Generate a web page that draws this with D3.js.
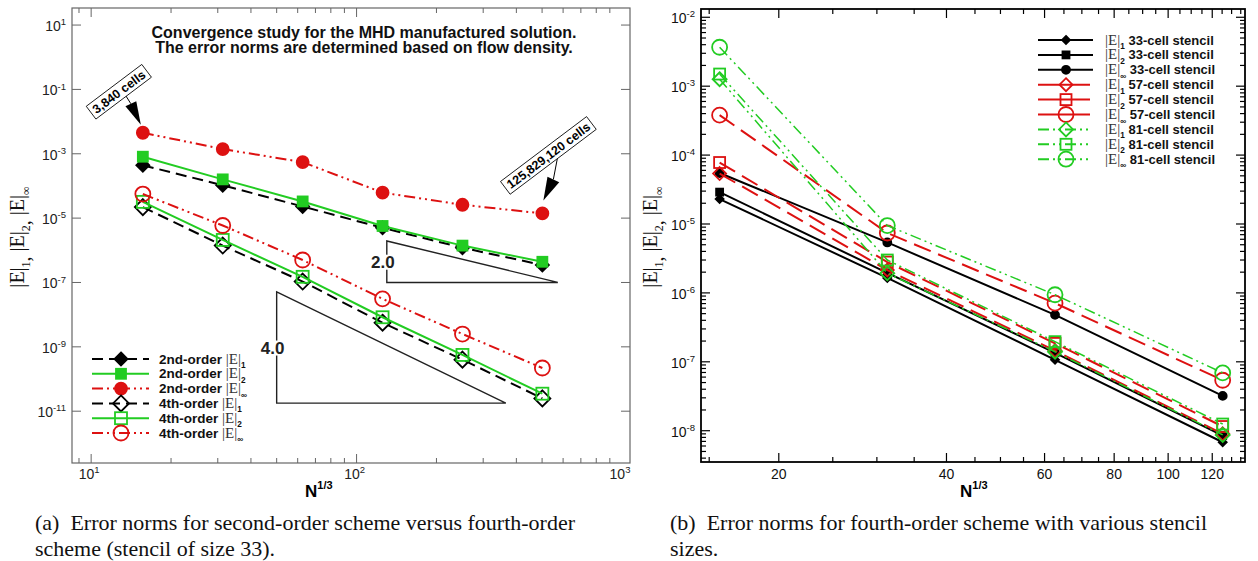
<!DOCTYPE html>
<html>
<head>
<meta charset="utf-8">
<script src="https://cdn.jsdelivr.net/npm/d3@7"></script>
<style>
  body { margin: 0; background: #fff; }
  svg { display: block; }
  .sans { font-family: "Liberation Sans", Arial, Helvetica, sans-serif; }
  .serif { font-family: "Liberation Serif", "Times New Roman", serif; }
</style>
</head>
<body>
<svg width="1258" height="561"></svg>
<script>
var svg = d3.select('svg');

// ---- data ----
// N^(1/3) for 3,840 ... 125,829,120 cells
var cbrtN = [15.66, 31.32, 62.65, 125.3, 250.6, 501.2];

// (a) second-order vs fourth-order, 33 stencil
var o2E1 = [4.4e-4, 1.05e-4, 2.3e-5, 5.0e-6, 1.2e-6, 3.5e-7];
var o2E2 = [8.1e-4, 1.6e-4, 3.3e-5, 5.7e-6, 1.4e-6, 4.4e-7];
var o2Einf = [4.5e-3, 1.4e-3, 5.5e-4, 6.2e-5, 2.6e-5, 1.4e-5];
var o4E1 = [2.2e-5, 1.4e-6, 1.07e-7, 5.6e-9, 4.0e-10, 2.5e-11];
var o4E2 = [3.2e-5, 2.1e-6, 1.5e-7, 8.3e-9, 5.6e-10, 3.5e-11];
var o4Einf = [5.6e-5, 5.9e-6, 5.0e-7, 3.1e-8, 2.5e-9, 2.2e-10];

// (b) fourth-order, stencil sizes (first 4 grids)
var s33E1 = [2.3e-5, 1.65e-6, 1.07e-7, 6.8e-9];
var s33E2 = [2.9e-5, 1.95e-6, 1.35e-7, 8.5e-9];
var s33Einf = [5.5e-5, 5.4e-6, 4.8e-7, 3.2e-8];
var s57E1 = [5.4e-5, 2.15e-6, 1.45e-7, 9.0e-9];
var s57E2 = [7.8e-5, 2.8e-6, 1.85e-7, 1.15e-8];
var s57Einf = [3.8e-4, 7.4e-6, 7.1e-7, 5.4e-8];
var s81E1 = [1.26e-3, 1.93e-6, 1.4e-7, 8.7e-9];
var s81E2 = [1.5e-3, 3.0e-6, 1.96e-7, 1.25e-8];
var s81Einf = [3.67e-3, 9.5e-6, 9.4e-7, 6.9e-8];

// slope triangles: x0, top y0, x1, order
var slopeTri = [
  {x0: 130, y0: 1.95e-6, x1: 573, order: 2, label: '2.0'},
  {x0: 50, y0: 5.07e-8, x1: 365, order: 4, label: '4.0'}
];

var titleLines = ['Convergence study for the MHD manufactured solution.',
                  'The error norms are determined based on flow density.'];
var leftXMajor = [10, 100, 1000];
var leftYMajor = [1, -1, -3, -5, -7, -9, -11];
var rightXMajor = [20, 40, 60, 80, 100, 120];
var rightYMajor = [-2, -3, -4, -5, -6, -7, -8];

var RED = '#dd1111', GREEN = '#22cc22', BLACK = '#000';
var DASH = '11,6', DDOT = '11,4,2,4,2,4', LONG = '18,8';

// ---- helpers ----
function marker(g, shape, cx, cy, s, color, filled, sw) {
  var el;
  if (shape === 'circle') {
    el = g.append('circle').attr('cx', cx).attr('cy', cy).attr('r', s);
  } else if (shape === 'square') {
    el = g.append('rect').attr('x', cx - s).attr('y', cy - s).attr('width', 2 * s).attr('height', 2 * s);
  } else {
    el = g.append('path').attr('d', 'M' + cx + ',' + (cy - s) + 'L' + (cx + s) + ',' + cy + 'L' + cx + ',' + (cy + s) + 'L' + (cx - s) + ',' + cy + 'Z');
  }
  el.attr('fill', filled ? color : 'none').attr('stroke', color).attr('stroke-width', sw || 1.8);
}

function drawSeries(g, xs, ys, x, y, st) {
  var line = d3.line().x(function (d, i) { return x(xs[i]); }).y(function (d) { return y(d); });
  g.append('path').datum(ys).attr('d', line).attr('fill', 'none')
    .attr('stroke', st.color).attr('stroke-width', st.lw).attr('stroke-dasharray', st.dash || null);
  ys.forEach(function (v, i) {
    marker(g, st.shape, x(xs[i]), y(v), st.size, st.color, st.filled, st.msw);
  });
}

function powLabel(sel, base, exp, size) {
  sel.append('tspan').text(base);
  sel.append('tspan').attr('font-size', size * 0.68).attr('dy', -size * 0.42).text(exp);
}

function normTspans(t, sub, fs) {
  t.append('tspan').attr('class', 'serif').attr('font-size', fs).attr('font-weight', 'normal').attr('fill', '#333').text('|E|');
  t.append('tspan').attr('class', 'sans').attr('font-size', fs * 0.55).attr('font-weight', 'bold').attr('fill', '#111').attr('dy', fs * 0.3).text(sub);
  t.append('tspan').attr('font-size', 1).attr('dy', -fs * 0.3).text('\u200a');
}

function yAxisTitle(cx, cy) {
  var t = svg.append('text').attr('transform', 'translate(' + cx + ',' + cy + ') rotate(-90)')
    .attr('text-anchor', 'middle').attr('class', 'serif').attr('font-size', 20).attr('fill', '#111');
  ['1', '2', '\u221e'].forEach(function (s, i) {
    t.append('tspan').attr('dy', i === 0 ? 0 : -6).text('|E|');
    t.append('tspan').attr('font-size', 12).attr('dy', 6).text(s);
    if (i < 2) t.append('tspan').attr('dy', 0).text(', ');
  });
}

function nLabel(cx, cy) {
  var t = svg.append('text').attr('x', cx).attr('y', cy).attr('class', 'sans')
    .attr('font-weight', 'bold').attr('font-size', 17);
  t.append('tspan').text('N');
  t.append('tspan').attr('font-size', 11).attr('dy', -8).text('1/3');
}

// ======================= (a) =======================
var fa = {l: 72, r: 630, t: 8, b: 463};
var xA = d3.scaleLog().domain([8.47, 1072]).range([fa.l, fa.r]);
var yA = d3.scaleLog().domain([Math.pow(10, -12.61), Math.pow(10, 1.53)]).range([fa.b, fa.t]);
var gA = svg.append('g');

gA.append('rect').attr('x', fa.l).attr('y', fa.t).attr('width', fa.r - fa.l).attr('height', fa.b - fa.t)
  .attr('fill', 'none').attr('stroke', '#666').attr('stroke-width', 1.2);

var xMinorA = [];
[1, 10, 100].forEach(function (d) { for (var k = 1; k <= 9; k++) xMinorA.push(k * d); });
xMinorA = xMinorA.filter(function (v) { return v > 8.47 && v < 1072; });
xMinorA.forEach(function (v) {
  var len = leftXMajor.indexOf(v) >= 0 ? 9 : 5;
  var px = xA(v);
  gA.append('line').attr('x1', px).attr('x2', px).attr('y1', fa.b).attr('y2', fa.b - len).attr('stroke', '#666');
  gA.append('line').attr('x1', px).attr('x2', px).attr('y1', fa.t).attr('y2', fa.t + len).attr('stroke', '#666');
});
leftXMajor.forEach(function (v, i) {
  var t = gA.append('text').attr('x', xA(v) - 2).attr('y', 479).attr('text-anchor', 'middle')
    .attr('class', 'sans').attr('font-size', 14).attr('fill', '#222');
  powLabel(t, '10', String(i + 1), 14);
});
leftYMajor.forEach(function (e) {
  var py = yA(Math.pow(10, e));
  gA.append('line').attr('x1', fa.l).attr('x2', fa.l + 9).attr('y1', py).attr('y2', py).attr('stroke', '#666');
  gA.append('line').attr('x1', fa.r).attr('x2', fa.r - 9).attr('y1', py).attr('y2', py).attr('stroke', '#666');
  var t = gA.append('text').attr('x', 66).attr('y', py + 6).attr('text-anchor', 'end')
    .attr('class', 'sans').attr('font-size', 14).attr('fill', '#222');
  powLabel(t, '10', String(e), 14);
});

// slope triangles
slopeTri.forEach(function (s) {
  var yb = s.y0 * Math.pow(s.x0 / s.x1, s.order);
  var p = [[xA(s.x0), yA(s.y0)], [xA(s.x0), yA(yb)], [xA(s.x1), yA(yb)]];
  gA.append('path').attr('d', 'M' + p.join('L') + 'Z').attr('fill', 'none').attr('stroke', '#222').attr('stroke-width', 1.4);
  var my = (p[0][1] + p[1][1]) / 2;
  var t = gA.append('text').attr('x', p[0][0] - 4).attr('y', my + 6).attr('text-anchor', 'middle')
    .attr('class', 'sans').attr('font-weight', 'bold').attr('font-size', 17).attr('fill', '#222').text(s.label);
  var bb = t.node().getBBox();
  gA.insert('rect', 'text:last-of-type').attr('x', bb.x).attr('y', bb.y + 2).attr('width', bb.width).attr('height', bb.height - 4).attr('fill', '#fff');
});

var seriesA = [
  {ys: o2E1, color: BLACK, dash: DASH, lw: 2, shape: 'diamond', size: 6.5, filled: true, txt: '2nd-order ', sub: '1'},
  {ys: o2E2, color: GREEN, dash: null, lw: 2, shape: 'square', size: 5, filled: true, txt: '2nd-order ', sub: '2'},
  {ys: o2Einf, color: RED, dash: DDOT, lw: 2, shape: 'circle', size: 6, filled: true, txt: '2nd-order ', sub: '\u221e'},
  {ys: o4E1, color: BLACK, dash: DASH, lw: 2, shape: 'diamond', size: 8, filled: false, txt: '4th-order ', sub: '1'},
  {ys: o4E2, color: GREEN, dash: null, lw: 2, shape: 'square', size: 6, filled: false, txt: '4th-order ', sub: '2'},
  {ys: o4Einf, color: RED, dash: DDOT, lw: 2, shape: 'circle', size: 7.5, filled: false, txt: '4th-order ', sub: '\u221e'}
];
seriesA.forEach(function (st) { drawSeries(gA, cbrtN, st.ys, xA, yA, st); });

// legend (a)
seriesA.forEach(function (st, i) {
  var ly = 359 + i * 14.8;
  gA.append('line').attr('x1', 92).attr('x2', 149).attr('y1', ly).attr('y2', ly)
    .attr('stroke', st.color).attr('stroke-width', 2).attr('stroke-dasharray', st.dash);
  marker(gA, st.shape, 121, ly, st.size, st.color, st.filled);
  var t = gA.append('text').attr('x', 159).attr('y', ly + 4.5).attr('class', 'sans')
    .attr('font-weight', 'bold').attr('font-size', 13.5).attr('fill', '#111');
  t.append('tspan').text(st.txt);
  normTspans(t, st.sub, 15);
});

// title
titleLines.forEach(function (s, i) {
  gA.append('text').attr('x', 364).attr('y', 37.5 + i * 15).attr('text-anchor', 'middle')
    .attr('class', 'sans').attr('font-weight', 'bold').attr('font-size', 16).attr('fill', '#111').text(s);
});

// cell-count callouts
function callout(px, py, label, bx, by, l0, l1, tip, hw) {
  var g = gA.append('g');
  g.append('line').attr('x1', px + l0[0]).attr('y1', py + l0[1]).attr('x2', px + l1[0]).attr('y2', py + l1[1])
    .attr('stroke', '#000').attr('stroke-width', 1);
  var dx = tip[0] - l1[0], dy = tip[1] - l1[1], n = Math.sqrt(dx * dx + dy * dy);
  var nx = -dy / n * hw, ny = dx / n * hw;
  g.append('path').attr('d', 'M' + (px + l1[0] + nx) + ',' + (py + l1[1] + ny) + 'L' + (px + tip[0]) + ',' + (py + tip[1]) +
    'L' + (px + l1[0] - nx) + ',' + (py + l1[1] - ny) + 'Z').attr('fill', '#000');
  var b = g.append('g').attr('transform', 'translate(' + (px + bx) + ',' + (py + by) + ') rotate(-37)');
  var t = b.append('text').attr('text-anchor', 'middle').attr('y', 4.5).attr('class', 'sans')
    .attr('font-weight', 'bold').attr('font-size', 12.5).text(label);
  var w = t.node().getComputedTextLength() + 7;
  b.insert('rect', 'text').attr('x', -w / 2).attr('y', -8).attr('width', w).attr('height', 16)
    .attr('fill', '#fff').attr('stroke', '#000').attr('stroke-width', 0.8);
}
callout(xA(cbrtN[0]), yA(o2Einf[0]), '3,840 cells', -24, -41, [-17, -37], [-12, -29], [-2, -8], 6);
callout(xA(cbrtN[5]), yA(o2Einf[5]), '125,829,120 cells', 6, -58, [15, -55], [11, -34], [1, -13], 6.5);

yAxisTitle(24, 237);
nLabel(305, 497);

// ======================= (b) =======================
var fb = {l: 701, r: 1245, t: 9, b: 462};
var xB = d3.scaleLog().domain([14.5, 137.4]).range([fb.l, fb.r]);
var yB = d3.scaleLog().domain([Math.pow(10, -8.454), Math.pow(10, -1.88)]).range([fb.b, fb.t]);
var gB = svg.append('g');

var xMinorB = [];
for (var v = 15; v <= 135; v += 5) xMinorB.push(v);
xMinorB.forEach(function (v) {
  var len = rightXMajor.indexOf(v) >= 0 ? 9 : 5;
  var px = xB(v);
  gB.append('line').attr('x1', px).attr('x2', px).attr('y1', fb.b).attr('y2', fb.b - len).attr('stroke', '#000').attr('stroke-width', 1.2);
  gB.append('line').attr('x1', px).attr('x2', px).attr('y1', fb.t).attr('y2', fb.t + len).attr('stroke', '#000').attr('stroke-width', 1.2);
});
rightXMajor.forEach(function (v) {
  gB.append('text').attr('x', xB(v)).attr('y', 479).attr('text-anchor', 'middle')
    .attr('class', 'sans').attr('font-size', 14).attr('fill', '#111').text(v);
});
var yMinorB = [];
for (var e = -9; e <= -2; e++) for (var k = 1; k <= 9; k++) yMinorB.push(k * Math.pow(10, e));
var yLo = yB.domain()[0], yHi = yB.domain()[1];
yMinorB.filter(function (v) { return v > yLo && v < yHi; }).forEach(function (v) {
  var major = Math.abs(Math.log10(v) - Math.round(Math.log10(v))) < 1e-9;
  var len = major ? 9 : 5;
  var py = yB(v);
  gB.append('line').attr('x1', fb.l).attr('x2', fb.l + len).attr('y1', py).attr('y2', py).attr('stroke', '#000').attr('stroke-width', 1.2);
  gB.append('line').attr('x1', fb.r).attr('x2', fb.r - len).attr('y1', py).attr('y2', py).attr('stroke', '#000').attr('stroke-width', 1.2);
});
rightYMajor.forEach(function (e) {
  var t = gB.append('text').attr('x', 695).attr('y', yB(Math.pow(10, e)) + 6).attr('text-anchor', 'end')
    .attr('class', 'sans').attr('font-size', 14).attr('fill', '#111');
  powLabel(t, '10', String(e), 14);
});
gB.append('rect').attr('x', fb.l).attr('y', fb.t).attr('width', fb.r - fb.l).attr('height', fb.b - fb.t)
  .attr('fill', 'none').attr('stroke', '#000').attr('stroke-width', 1.8);

var xs4 = cbrtN.slice(0, 4);
var seriesB = [
  {ys: s33E1, color: BLACK, dash: null, lw: 2, shape: 'diamond', size: 4, filled: true, sub: '1', txt: ' 33-cell stencil'},
  {ys: s33E2, color: BLACK, dash: null, lw: 2, shape: 'square', size: 3.5, filled: true, sub: '2', txt: ' 33-cell stencil'},
  {ys: s33Einf, color: BLACK, dash: null, lw: 2, shape: 'circle', size: 4, filled: true, sub: '\u221e', txt: ' 33-cell stencil'},
  {ys: s57E1, color: RED, dash: LONG, lw: 2, shape: 'diamond', size: 6.5, filled: false, sub: '1', txt: ' 57-cell stencil', legDash: null},
  {ys: s57E2, color: RED, dash: LONG, lw: 2, shape: 'square', size: 5.5, filled: false, sub: '2', txt: ' 57-cell stencil', legDash: null},
  {ys: s57Einf, color: RED, dash: LONG, lw: 2, shape: 'circle', size: 7.5, filled: false, sub: '\u221e', txt: ' 57-cell stencil', legDash: null},
  {ys: s81E1, color: GREEN, dash: DDOT, lw: 1.5, shape: 'diamond', size: 7, filled: false, sub: '1', txt: ' 81-cell stencil'},
  {ys: s81E2, color: GREEN, dash: DDOT, lw: 1.5, shape: 'square', size: 5.5, filled: false, sub: '2', txt: ' 81-cell stencil'},
  {ys: s81Einf, color: GREEN, dash: DDOT, lw: 1.5, shape: 'circle', size: 7.5, filled: false, sub: '\u221e', txt: ' 81-cell stencil'}
];
seriesB.forEach(function (st) { drawSeries(gB, xs4, st.ys, xB, yB, st); });

// legend (b)
seriesB.forEach(function (st, i) {
  var ly = 40 + i * 14.9;
  var dash = st.legDash !== undefined ? st.legDash : st.dash;
  gB.append('line').attr('x1', 1038).attr('x2', st.color === BLACK ? 1093 : 1090).attr('y1', ly).attr('y2', ly)
    .attr('stroke', st.color).attr('stroke-width', 2).attr('stroke-dasharray', dash);
  marker(gB, st.shape, 1066, ly, st.size, st.color, st.filled);
  var t = gB.append('text').attr('x', 1105).attr('y', ly + 4.5).attr('class', 'sans')
    .attr('font-weight', 'bold').attr('font-size', 13).attr('fill', '#111');
  normTspans(t, st.sub, 15);
  t.append('tspan').text(st.txt);
});

yAxisTitle(657, 237);
nLabel(960, 497);

// captions
var capA = ['(a)\u2002Error norms for second-order scheme versus fourth-order', 'scheme (stencil of size 33).'];
var capB = ['(b)\u2002Error norms for fourth-order scheme with various stencil', 'sizes.'];
capA.forEach(function (s, i) {
  svg.append('text').attr('x', 35).attr('y', 530 + i * 26).attr('class', 'serif').attr('font-size', 22).attr('fill', '#111').text(s);
});
capB.forEach(function (s, i) {
  svg.append('text').attr('x', 670).attr('y', 530 + i * 26).attr('class', 'serif').attr('font-size', 22).attr('fill', '#111').text(s);
});
</script>
</body>
</html>
